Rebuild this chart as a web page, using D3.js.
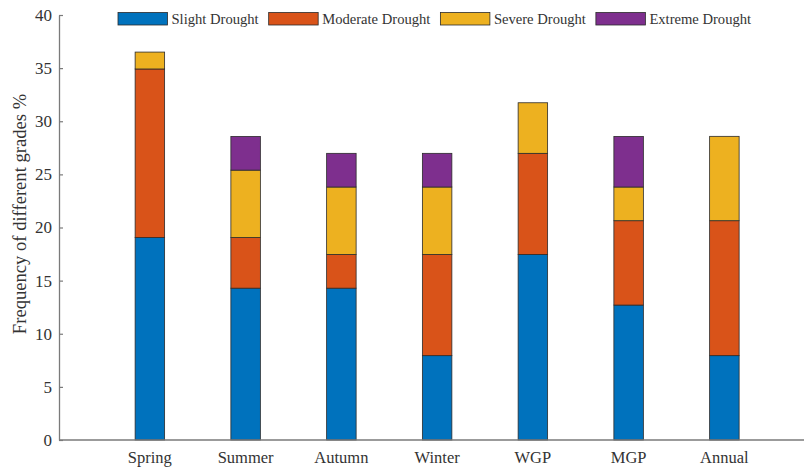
<!DOCTYPE html>
<html>
<head>
<meta charset="utf-8">
<script src="https://cdn.jsdelivr.net/npm/d3@7"></script>
<style>
  body { margin: 0; background: #fff; }
  svg { display: block; font-family: "Liberation Serif", "Times New Roman", serif; }
</style>
</head>
<body>
<svg id="chart" width="804" height="468"></svg>
<script>
const categories = ['Spring', 'Summer', 'Autumn', 'Winter', 'WGP', 'MGP', 'Annual'];
const grades = ['Slight Drought', 'Moderate Drought', 'Severe Drought', 'Extreme Drought'];
const slight   = [19.05, 14.29, 14.29, 7.94, 17.46, 12.70, 7.94];
const moderate = [15.87, 4.76, 3.17, 9.52, 9.52, 7.94, 12.70];
const severe   = [1.59, 6.35, 6.35, 6.35, 4.76, 3.17, 7.94];
const extreme  = [0, 3.17, 3.17, 3.17, 0, 4.76, 0];
const yTicks = [0, 5, 10, 15, 20, 25, 30, 35, 40];
const colors = ['#0072BD', '#D95319', '#EDB120', '#7E2F8E'];

const series = [slight, moderate, severe, extreme];
const rows = categories.map((c, i) => {
  const r = { cat: c };
  grades.forEach((g, j) => { r[g] = series[j][i]; });
  return r;
});

const svg = d3.select('#chart');
const axisColor = '#7a7a7a';

const x = d3.scaleBand()
  .domain(categories)
  .range([102, 102 + 7 * 95.75])
  .paddingInner(0.692)
  .paddingOuter(0.346);

const y = d3.scaleLinear().domain([0, 40]).range([440, 15]);

const stacked = d3.stack().keys(grades)(rows);

// bars
svg.append('g')
  .selectAll('g')
  .data(stacked)
  .join('g')
  .attr('fill', (d, i) => colors[i])
  .selectAll('rect')
  .data(d => d.filter(p => p[1] - p[0] > 0))
  .join('rect')
  .attr('x', d => x(d.data.cat))
  .attr('y', d => y(d[1]))
  .attr('width', x.bandwidth())
  .attr('height', d => y(d[0]) - y(d[1]))
  .attr('stroke', '#2b2b2b')
  .attr('stroke-width', 0.8);

// y axis
const yAxis = svg.append('g')
  .attr('transform', 'translate(59,0)')
  .call(d3.axisLeft(y).tickValues(yTicks).tickSizeInner(-4).tickSizeOuter(0).tickPadding(7));
yAxis.select('.domain').attr('stroke', axisColor).attr('stroke-width', 1.3);
yAxis.selectAll('.tick line').attr('stroke', axisColor).attr('stroke-width', 1.2);
yAxis.selectAll('.tick text')
  .attr('fill', '#333')
  .style('font-size', '17px')
  .style('font-family', '"Liberation Serif", serif');

// x axis line and labels
svg.append('line')
  .attr('x1', 59).attr('x2', 804)
  .attr('y1', y(0)).attr('y2', y(0))
  .attr('stroke', axisColor).attr('stroke-width', 1.3);

svg.append('g')
  .selectAll('text')
  .data(categories)
  .join('text')
  .attr('x', d => x(d) + x.bandwidth() / 2)
  .attr('y', 463)
  .attr('text-anchor', 'middle')
  .attr('fill', '#333')
  .style('font-size', '16.5px')
  .text(d => d);

// y label
svg.append('text')
  .attr('transform', 'translate(26,214) rotate(-90)')
  .attr('text-anchor', 'middle')
  .attr('fill', '#333')
  .style('font-size', '18.6px')
  .text('Frequency of different grades %');

// legend
const legend = svg.append('g');
let lx = 118;
grades.forEach((g, i) => {
  legend.append('rect')
    .attr('x', lx).attr('y', 12.5)
    .attr('width', 49.5).attr('height', 12.5)
    .attr('fill', colors[i])
    .attr('stroke', '#2b2b2b').attr('stroke-width', 0.8);
  const t = legend.append('text')
    .attr('x', lx + 53.5).attr('y', 24)
    .attr('fill', '#333')
    .style('font-size', '14.6px')
    .text(g);
  lx += 53.5 + t.node().getComputedTextLength() + 10;
});
</script>
</body>
</html>
